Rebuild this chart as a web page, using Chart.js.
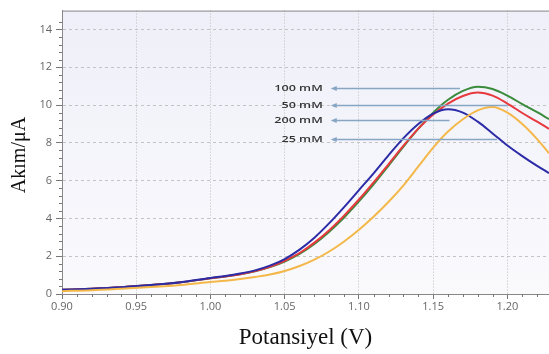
<!DOCTYPE html>
<html>
<head>
<meta charset="utf-8">
<script src="https://cdn.jsdelivr.net/npm/chart.js@4"></script>
<style>
  html, body { margin: 0; padding: 0; background: #fff; }
  #wrap { width: 549px; height: 354px; }
</style>
</head>
<body>
<div id="wrap"><canvas id="c"></canvas></div>
<script>
// potential (V)
const potential = [0.90, 0.92, 0.94, 0.96, 0.98, 1.00, 1.01, 1.02, 1.03, 1.04, 1.05, 1.06, 1.07, 1.08,
    1.09, 1.10, 1.11, 1.12, 1.13, 1.14, 1.15, 1.16, 1.17, 1.18, 1.19, 1.20, 1.21, 1.22, 1.228];

// current (uA) for each concentration
const mM100 = [0.22, 0.28, 0.36, 0.47, 0.62, 0.83, 0.93, 1.05, 1.20, 1.42, 1.72, 2.12, 2.65, 3.30,
    4.05, 4.90, 5.82, 6.80, 7.80, 8.75, 9.60, 10.28, 10.75, 10.97, 10.85, 10.50, 10.05, 9.62, 9.26];
const mM50 = [0.22, 0.28, 0.36, 0.47, 0.62, 0.83, 0.93, 1.05, 1.21, 1.44, 1.76, 2.17, 2.72, 3.38,
    4.15, 5.00, 5.92, 6.88, 7.85, 8.75, 9.50, 10.08, 10.48, 10.66, 10.50, 10.08, 9.58, 9.12, 8.74];
const mM200 = [0.22, 0.28, 0.36, 0.47, 0.62, 0.85, 0.95, 1.08, 1.25, 1.50, 1.85, 2.35, 2.98, 3.75,
    4.60, 5.50, 6.40, 7.35, 8.25, 9.00, 9.55, 9.78, 9.60, 9.12, 8.50, 7.86, 7.30, 6.78, 6.40];
const mM25 = [0.15, 0.20, 0.28, 0.37, 0.48, 0.63, 0.70, 0.79, 0.90, 1.03, 1.22, 1.48, 1.82, 2.25,
    2.78, 3.40, 4.10, 4.88, 5.75, 6.75, 7.75, 8.60, 9.25, 9.72, 9.90, 9.60, 9.00, 8.20, 7.45];

// annotation labels: y level, arrow start and end (data units)
const noteLabels = ['100 mM', '50 mM', '200 mM', '25 mM'];
const noteY = [10.9, 10.02, 9.2, 8.2];
const noteX1 = [1.081, 1.081, 1.081, 1.081];
const noteX2 = [1.168, 1.200, 1.161, 1.193];

const xTicks = [0.90, 0.95, 1.00, 1.05, 1.10, 1.15, 1.20];
const yTicks = [0, 2, 4, 6, 8, 10, 12, 14];

const pts = arr => arr.map((v, i) => ({x: potential[i], y: v}));

const bgPlugin = {
    id: 'bg',
    beforeDraw: chart => {
        const {ctx, chartArea: a} = chart;
        ctx.save();
        const g = ctx.createLinearGradient(0, a.top, 0, a.bottom);
        g.addColorStop(0, '#efeff9');
        g.addColorStop(1, '#fafafd');
        ctx.fillStyle = g;
        ctx.fillRect(a.left, a.top, a.right - a.left, a.bottom - a.top);
        ctx.restore();
    },
    afterDraw: chart => {
        const {ctx, chartArea: a, scales: {x, y}} = chart;
        ctx.save();
        // top border
        ctx.strokeStyle = '#888';
        ctx.lineWidth = 1;
        ctx.beginPath();
        ctx.moveTo(a.left, a.top + 0.5);
        ctx.lineTo(a.right, a.top + 0.5);
        ctx.stroke();
        // minor ticks
        ctx.strokeStyle = '#777';
        ctx.beginPath();
        for (let i = 1; i < 33; i++) {
            if (i % 5 === 0) continue;
            const px = Math.round(x.getPixelForValue(0.9 + i * 0.01)) + 0.5;
            ctx.moveTo(px, a.bottom);
            ctx.lineTo(px, a.bottom + 3);
        }
        for (let i = 1; i < 37; i++) {
            if (i % 5 === 0) continue;
            const py = Math.round(y.getPixelForValue(i * 0.4)) + 0.5;
            ctx.moveTo(a.left - 3, py);
            ctx.lineTo(a.left, py);
        }
        ctx.stroke();

        // arrows + labels
        noteLabels.forEach((lbl, i) => {
            const py = Math.round(y.getPixelForValue(noteY[i])) + 0.5;
            const x1 = x.getPixelForValue(noteX1[i]);
            const x2 = x.getPixelForValue(noteX2[i]);
            ctx.strokeStyle = '#86a6c4';
            ctx.fillStyle = '#86a6c4';
            ctx.lineWidth = 1.5;
            ctx.beginPath();
            ctx.moveTo(x1 + 3, py);
            ctx.lineTo(x2, py);
            ctx.stroke();
            ctx.beginPath();
            ctx.moveTo(x1, py);
            ctx.lineTo(x1 + 6, py - 2.5);
            ctx.lineTo(x1 + 6, py + 2.5);
            ctx.closePath();
            ctx.fill();
            ctx.save();
            ctx.translate(x1 - 8, py);
            ctx.scale(1.4, 1);
            ctx.font = '600 9px "Open Sans"';
            ctx.fillStyle = '#333';
            ctx.textAlign = 'right';
            ctx.textBaseline = 'middle';
            ctx.fillText(lbl, 0, 0);
            ctx.restore();
        });

        // axis titles
        ctx.fillStyle = '#111';
        ctx.textAlign = 'center';
        ctx.textBaseline = 'middle';
        ctx.font = '23px "Liberation Serif"';
        ctx.fillText('Potansiyel (V)', (a.left + a.right) / 2, 338);
        ctx.translate(20, 155);
        ctx.rotate(-Math.PI / 2);
        ctx.font = '20px "Liberation Serif"';
        ctx.fillText('Akım/μA', 0, 0);
        ctx.restore();
    }
};

const mk = (label, arr, color) => ({
    label: label,
    data: pts(arr),
    borderColor: color,
    borderWidth: 2,
    pointRadius: 0,
    cubicInterpolationMode: 'monotone',
    fill: false
});

new Chart(document.getElementById('c'), {
    type: 'line',
    data: {
        datasets: [
            mk('25 mM', mM25, '#f4b84a'),
            mk('200 mM', mM200, '#2c2ca6'),
            mk('50 mM', mM50, '#e63a3e'),
            mk('100 mM', mM100, '#3a8c3c')
        ]
    },
    options: {
        responsive: true,
        maintainAspectRatio: false,
        animation: false,
        layout: {padding: {top: 5, right: 0, left: 0, bottom: 0}},
        plugins: {legend: {display: false}, tooltip: {enabled: false}},
        scales: {
            x: {
                type: 'linear',
                min: 0.9,
                max: 1.228,
                afterFit: s => { s.height = 60; },
                afterBuildTicks: s => { s.ticks = xTicks.map(v => ({value: v})); },
                ticks: {
                    callback: v => v.toFixed(2),
                    color: '#666',
                    font: {family: '"Open Sans"', size: 11},
                    padding: 1,
                    maxRotation: 0
                },
                grid: {color: '#bdbdbd', tickColor: '#777', tickLength: 5, lineWidth: 1},
                border: {color: '#888', dash: [1, 2]}
            },
            y: {
                min: 0,
                max: 15,
                afterFit: s => { s.width = 62; },
                afterBuildTicks: s => { s.ticks = yTicks.map(v => ({value: v})); },
                ticks: {
                    color: '#666',
                    font: {family: '"Open Sans"', size: 11},
                    padding: 4
                },
                grid: {color: '#c4c4c4', tickColor: '#777', tickLength: 6, lineWidth: 1},
                border: {color: '#888', dash: [3, 3]}
            }
        }
    },
    plugins: [bgPlugin]
});
</script>
</body>
</html>
